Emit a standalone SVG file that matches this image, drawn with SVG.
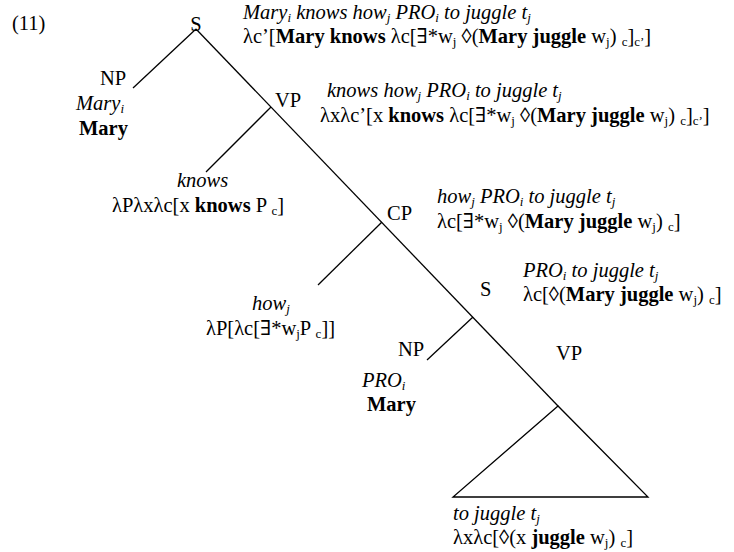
<svg xmlns="http://www.w3.org/2000/svg" width="734" height="552" viewBox="0 0 734 552">
<style>
.t{font-family:"Liberation Serif","DejaVu Serif","Times New Roman",serif;font-size:20.5px;fill:#000}
.i{font-style:italic}
.b{font-weight:bold}
.s{font-size:13px}
.ln{stroke:#000;stroke-width:1.3;fill:none}
</style>
<rect width="734" height="552" fill="#fff"/>
<text class="t" x="12" y="30" font-size="24">(11)</text>
<g id="connectors">
<line class="ln" x1="196" y1="29" x2="558" y2="406"/>
<line class="ln" x1="196" y1="29" x2="133" y2="88"/>
<line class="ln" x1="271" y1="107" x2="206" y2="172"/>
<line class="ln" x1="382" y1="222" x2="318" y2="285"/>
<line class="ln" x1="473" y1="317" x2="427" y2="360"/>
<polygon class="ln" points="558,406 453,497 648,497"/>
</g>
<g id="S_root">
<text class="t" x="196" y="31" text-anchor="middle">S</text>
<text class="t i" x="243" y="19">Mary<tspan class="s" dy="3">i</tspan><tspan dy="-3"> knows how</tspan><tspan class="s" dy="3">j</tspan><tspan dy="-3"> PRO</tspan><tspan class="s" dy="3">i</tspan><tspan dy="-3"> to juggle t</tspan><tspan class="s" dy="3">j</tspan></text>
<text class="t" x="243" y="43">λc’[<tspan class="b">Mary knows</tspan> λc[∃*w<tspan class="s" dy="3">j</tspan><tspan dy="-3"> ◊(</tspan><tspan class="b">Mary juggle</tspan> w<tspan class="s" dy="3">j</tspan><tspan dy="-3">) </tspan><tspan class="s" dy="3">c</tspan><tspan dy="-3">]</tspan><tspan class="s" dy="3">c’</tspan><tspan dy="-3">]</tspan></text>
</g>
<g id="NP_subject">
<text class="t" x="100" y="85">NP</text>
<text class="t i" x="76" y="110">Mary<tspan class="s" dy="3">i</tspan></text>
<text class="t b" x="79" y="135">Mary</text>
</g>
<g id="VP_upper">
<text class="t" x="275" y="107">VP</text>
<text class="t i" x="327" y="97">knows how<tspan class="s" dy="3">j</tspan><tspan dy="-3"> PRO</tspan><tspan class="s" dy="3">i</tspan><tspan dy="-3"> to juggle t</tspan><tspan class="s" dy="3">j</tspan></text>
<text class="t" x="320" y="122">λxλc’[x <tspan class="b">knows</tspan> λc[∃*w<tspan class="s" dy="3">j</tspan><tspan dy="-3"> ◊(</tspan><tspan class="b">Mary juggle</tspan> w<tspan class="s" dy="3">j</tspan><tspan dy="-3">) </tspan><tspan class="s" dy="3">c</tspan><tspan dy="-3">]</tspan><tspan class="s" dy="3">c’</tspan><tspan dy="-3">]</tspan></text>
</g>
<g id="V_knows">
<text class="t i" x="177" y="187">knows</text>
<text class="t" x="112" y="212">λPλxλc[x <tspan class="b">knows</tspan> P <tspan class="s" dy="3">c</tspan><tspan dy="-3">]</tspan></text>
</g>
<g id="CP">
<text class="t" x="387" y="220">CP</text>
<text class="t i" x="437" y="203">how<tspan class="s" dy="3">j</tspan><tspan dy="-3"> PRO</tspan><tspan class="s" dy="3">i</tspan><tspan dy="-3"> to juggle t</tspan><tspan class="s" dy="3">j</tspan></text>
<text class="t" x="437" y="228">λc[∃*w<tspan class="s" dy="3">j</tspan><tspan dy="-3"> ◊(</tspan><tspan class="b">Mary juggle</tspan> w<tspan class="s" dy="3">j</tspan><tspan dy="-3">) </tspan><tspan class="s" dy="3">c</tspan><tspan dy="-3">]</tspan></text>
</g>
<g id="how">
<text class="t i" x="252" y="310">how<tspan class="s" dy="3">j</tspan></text>
<text class="t" x="206" y="335">λP[λc[∃*w<tspan class="s" dy="3">j</tspan><tspan dy="-3">P </tspan><tspan class="s" dy="3">c</tspan><tspan dy="-3">]]</tspan></text>
</g>
<g id="S_embedded">
<text class="t" x="480" y="296">S</text>
<text class="t i" x="523" y="277">PRO<tspan class="s" dy="3">i</tspan><tspan dy="-3"> to juggle t</tspan><tspan class="s" dy="3">j</tspan></text>
<text class="t" x="523" y="301">λc[◊(<tspan class="b">Mary juggle</tspan> w<tspan class="s" dy="3">j</tspan><tspan dy="-3">) </tspan><tspan class="s" dy="3">c</tspan><tspan dy="-3">]</tspan></text>
</g>
<g id="NP_PRO">
<text class="t" x="398" y="356">NP</text>
<text class="t i" x="362" y="387">PRO<tspan class="s" dy="3">i</tspan></text>
<text class="t b" x="367" y="411">Mary</text>
</g>
<g id="VP_lower">
<text class="t" x="556" y="360">VP</text>
<text class="t i" x="453" y="520">to juggle t<tspan class="s" dy="3">j</tspan></text>
<text class="t" x="453" y="544">λxλc[◊(x <tspan class="b">juggle</tspan> w<tspan class="s" dy="3">j</tspan><tspan dy="-3">) </tspan><tspan class="s" dy="3">c</tspan><tspan dy="-3">]</tspan></text>
</g>
</svg>
